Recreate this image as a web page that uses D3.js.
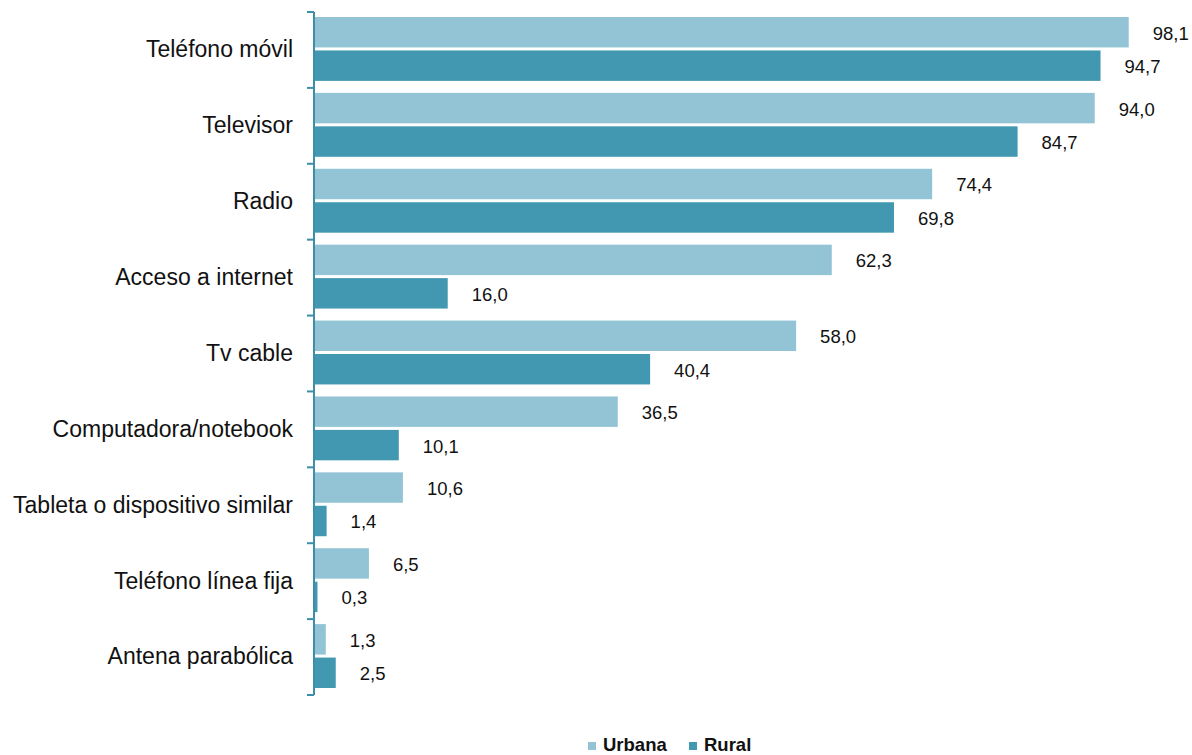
<!DOCTYPE html>
<html><head><meta charset="utf-8">
<script src="https://cdn.jsdelivr.net/npm/d3@7"></script>
<style>body{margin:0;background:#fff;}svg{display:block;font-family:"Liberation Sans",Arial,sans-serif;}</style>
</head><body>
<svg id="c" width="1192" height="755"></svg>
<script>
const categories = ["Teléfono móvil","Televisor","Radio","Acceso a internet","Tv cable","Computadora/notebook","Tableta o dispositivo similar","Teléfono línea fija","Antena parabólica"];
const urbana = [98.1,94.0,74.4,62.3,58.0,36.5,10.6,6.5,1.3];
const rural = [94.7,84.7,69.8,16.0,40.4,10.1,1.4,0.3,2.5];
const seriesNames = ["Urbana","Rural"];
const colors = ["#93C4D5","#4298B0"];

const svg = d3.select("#c");
const x0 = 314, yTop = 12, yBot = 695;
const x = d3.scaleLinear().domain([0,100]).range([x0, x0 + 829.5]);
const y = d3.scaleBand().domain(categories).range([yTop, yBot]).paddingInner(0).paddingOuter(0);
const inner = d3.scaleBand().domain(seriesNames).range([5, y.bandwidth()-7]).paddingInner(0.09).paddingOuter(0);

const fmt = v => v.toFixed(1).replace(".", ",");

const g = svg.append("g");
categories.forEach((c, i) => {
  const vals = [urbana[i], rural[i]];
  vals.forEach((v, j) => {
    const yy = y(c) + inner(seriesNames[j]);
    g.append("rect").attr("x", x(0)+1).attr("y", yy)
      .attr("width", Math.max(0, x(v)-x(0))).attr("height", inner.bandwidth())
      .attr("fill", colors[j]);
    g.append("text").attr("x", x(v) + 25).attr("y", yy + inner.bandwidth()/2 + 1)
      .attr("dy", "0.35em").attr("font-size", 18.5).attr("fill", "#111").text(fmt(v));
  });
});

// axis
const axis = d3.axisLeft(y).tickSize(0).tickPadding(21);
const ag = svg.append("g").attr("transform", `translate(${x0},0)`).call(axis);
ag.select(".domain").attr("stroke", "#3D8EA8").attr("stroke-width", 2).attr("d", `M0,${yTop}V${yBot}`);
ag.selectAll(".tick text").attr("font-size", 23).attr("fill", "#111").attr("font-family", "Liberation Sans, Arial, sans-serif");
// boundary ticks
const bounds = categories.map(c => y(c)).concat([yBot]);
ag.selectAll(".btick").data(bounds).enter().append("line")
  .attr("x1", -7).attr("x2", 0).attr("y1", d => d).attr("y2", d => d)
  .attr("stroke", "#3D8EA8").attr("stroke-width", 2);

// legend
const lg = svg.append("g").attr("font-size", 18.5).attr("font-weight", "bold");
const lx = [588, 689];
seriesNames.forEach((s, j) => {
  lg.append("rect").attr("x", lx[j]).attr("y", 742).attr("width", 8).attr("height", 8).attr("fill", colors[j]);
  lg.append("text").attr("x", lx[j] + 15).attr("y", 751).attr("fill", "#111").text(s);
});
</script>
</body></html>
